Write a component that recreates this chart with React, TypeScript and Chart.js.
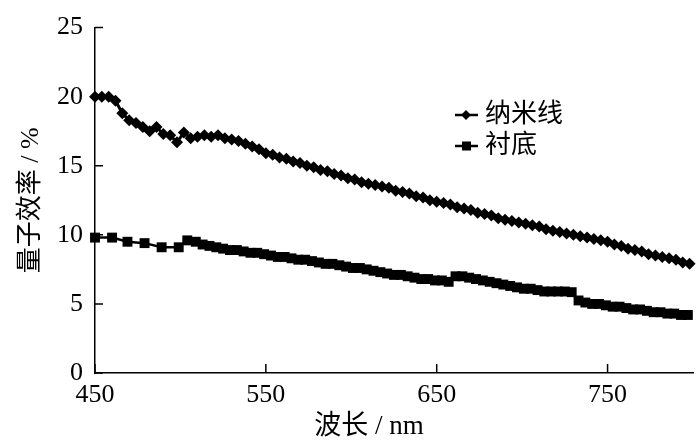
import React, { useEffect, useRef } from "react";
import { Chart, registerables } from "chart.js";

Chart.register(...registerables);

const seriesNames = ["纳米线", "衬底"];

const nwX = [
  450, 454, 458, 462, 466, 470, 474, 478, 482, 486, 490, 494, 498, 502, 506, 510,
  514, 518, 522, 526, 530, 534, 538, 542, 546, 550, 554, 558, 562, 566, 570, 574,
  578, 582, 586, 590, 594, 598, 602, 606, 610, 614, 618, 622, 626, 630, 634, 638,
  642, 646, 650, 654, 658, 662, 666, 670, 674, 678, 682, 686, 690, 694, 698, 702,
  706, 710, 714, 718, 722, 726, 730, 734, 738, 742, 746, 750, 754, 758, 762, 766,
  770, 774, 778, 782, 786, 790, 794, 798,
];
const nwY = [
  20.0, 20.0, 20.0, 19.7, 18.8, 18.3, 18.1, 17.8, 17.5, 17.8, 17.3, 17.2, 16.7, 17.4, 17.0, 17.1,
  17.2, 17.1, 17.2, 17.0, 16.9, 16.8, 16.6, 16.4, 16.2, 15.9, 15.8, 15.6, 15.5, 15.3, 15.2, 15.0,
  14.9, 14.7, 14.6, 14.4, 14.3, 14.1, 14.0, 13.8, 13.7, 13.6, 13.5, 13.4, 13.2, 13.1, 13.0, 12.8,
  12.7, 12.5, 12.4, 12.3, 12.2, 12.0, 11.9, 11.8, 11.6, 11.5, 11.4, 11.2, 11.1, 11.0, 10.9, 10.8,
  10.7, 10.6, 10.4, 10.3, 10.2, 10.1, 10.0, 9.9, 9.8, 9.7, 9.6, 9.5, 9.3, 9.2, 9.0, 8.9,
  8.8, 8.6, 8.5, 8.4, 8.3, 8.2, 8.0, 7.9,
];

const subX = [
  450, 460, 469, 479, 489, 499, 504, 509, 513, 517, 521, 525, 529, 533, 537, 541,
  545, 549, 553, 557, 561, 565, 569, 573, 577, 581, 585, 589, 593, 597, 601, 605,
  609, 613, 617, 621, 625, 629, 633, 637, 641, 645, 649, 653, 657, 661, 665, 669,
  673, 677, 681, 685, 689, 693, 697, 701, 705, 709, 713, 717, 721, 725, 729, 733,
  737, 741, 745, 749, 753, 757, 761, 765, 769, 773, 777, 781, 785, 789, 793, 797,
];
const subY = [
  9.8, 9.8, 9.5, 9.4, 9.1, 9.1, 9.6, 9.5, 9.3, 9.2, 9.1, 9.0, 8.9, 8.9, 8.8, 8.7,
  8.7, 8.6, 8.5, 8.4, 8.4, 8.3, 8.2, 8.2, 8.1, 8.0, 7.9, 7.9, 7.8, 7.7, 7.6, 7.6,
  7.5, 7.4, 7.3, 7.2, 7.1, 7.1, 7.0, 6.9, 6.8, 6.8, 6.7, 6.7, 6.6, 7.0, 7.0, 6.9,
  6.8, 6.7, 6.6, 6.5, 6.4, 6.3, 6.2, 6.1, 6.1, 6.0, 5.9, 5.9, 5.9, 5.9, 5.85, 5.25,
  5.1, 5.0, 5.0, 4.9, 4.8, 4.8, 4.7, 4.6, 4.6, 4.5, 4.4, 4.4, 4.3, 4.3, 4.2, 4.2,
];

const xTicks = [450, 550, 650, 750];
const yTicks = [0, 5, 10, 15, 20, 25];

const xTitle = "波长 / nm";
const yTitle = "量子效率 / %";

const FONT = "'Liberation Serif', 'Noto Sans CJK SC', serif";

const inwardTicks = {
  id: "inwardTicks",
  afterDraw(chart: any) {
    const ctx = chart.ctx;
    const { left, bottom } = chart.chartArea;
    const xs = chart.scales.x;
    const ys = chart.scales.y;
    ctx.save();
    ctx.strokeStyle = "#000";
    ctx.lineWidth = 1.5;
    ctx.beginPath();
    xs.ticks.forEach((t: any) => {
      const px = xs.getPixelForValue(t.value);
      ctx.moveTo(px, bottom);
      ctx.lineTo(px, bottom - 9);
    });
    ys.ticks.forEach((t: any) => {
      const py = ys.getPixelForValue(t.value);
      ctx.moveTo(left, py);
      ctx.lineTo(left + 8, py);
    });
    ctx.stroke();
    ctx.restore();
  },
};

const xTitlePlugin = {
  id: "xTitlePlugin",
  afterDraw(chart: any) {
    const ctx = chart.ctx;
    ctx.save();
    ctx.fillStyle = "#000";
    ctx.font = `27px ${FONT}`;
    ctx.textAlign = "center";
    ctx.textBaseline = "middle";
    ctx.fillText(xTitle, 369, 427);
    ctx.restore();
  },
};

const legendPlugin = {
  id: "customLegend",
  afterDraw(chart: any) {
    const ctx = chart.ctx;
    const rows = [115, 146];
    ctx.save();
    chart.data.datasets.forEach((ds: any, i: number) => {
      const y = rows[i];
      ctx.strokeStyle = "#000";
      ctx.lineWidth = 2.5;
      ctx.beginPath();
      ctx.moveTo(455, y);
      ctx.lineTo(478, y);
      ctx.stroke();
      ctx.fillStyle = "#000";
      ctx.beginPath();
      if (ds.pointStyle === "rectRot") {
        ctx.moveTo(466, y - 5);
        ctx.lineTo(471, y);
        ctx.lineTo(466, y + 5);
        ctx.lineTo(461, y);
        ctx.closePath();
      } else {
        ctx.rect(462, y - 4.5, 9, 9);
      }
      ctx.fill();
      ctx.font = `26px ${FONT}`;
      ctx.textAlign = "left";
      ctx.textBaseline = "middle";
      ctx.fillText(ds.label, 485, y);
    });
    ctx.restore();
  },
};

export default function App() {
  const ref = useRef<HTMLCanvasElement | null>(null);

  useEffect(() => {
    if (!ref.current) return;
    const chart = new Chart(ref.current, {
      type: "line",
      data: {
        datasets: [
          {
            label: seriesNames[0],
            data: nwX.map((x, i) => ({ x, y: nwY[i] })),
            borderColor: "#000",
            backgroundColor: "#000",
            borderWidth: 3,
            pointStyle: "rectRot",
            pointRadius: 6,
            pointBorderWidth: 0,
            pointBackgroundColor: "#000",
            clip: false as any,
          },
          {
            label: seriesNames[1],
            data: subX.map((x, i) => ({ x, y: subY[i] })),
            borderColor: "#000",
            backgroundColor: "#000",
            borderWidth: 2.5,
            pointStyle: "rect",
            pointRadius: 7,
            pointBorderWidth: 0,
            pointBackgroundColor: "#000",
            clip: false as any,
          },
        ],
      },
      options: {
        responsive: false,
        animation: false,
        devicePixelRatio: 1,
        layout: { padding: { top: 16, right: 3, left: 0, bottom: 0 } },
        plugins: {
          legend: { display: false },
          tooltip: { enabled: false },
        },
        scales: {
          x: {
            type: "linear",
            min: 450,
            max: 800,
            position: "bottom",
            afterBuildTicks: (s: any) => {
              s.ticks = xTicks.map((v) => ({ value: v }));
            },
            afterFit: (s: any) => {
              s.height = 72;
            },
            ticks: {
              color: "#000",
              font: { family: FONT, size: 26 },
              padding: 7,
              maxRotation: 0,
              autoSkip: false,
            },
            grid: { drawOnChartArea: false, drawTicks: false },
            border: { display: true, color: "#000", width: 1.5 },
          },
          y: {
            type: "linear",
            min: 0,
            max: 25,
            afterBuildTicks: (s: any) => {
              s.ticks = yTicks.map((v) => ({ value: v }));
            },
            afterFit: (s: any) => {
              s.width = 95;
            },
            ticks: {
              color: "#000",
              font: { family: FONT, size: 26 },
              padding: 12,
            },
            grid: { drawOnChartArea: false, drawTicks: false },
            border: { display: true, color: "#000", width: 1.5 },
            title: {
              display: true,
              text: yTitle,
              color: "#000",
              font: { family: FONT, size: 26, lineHeight: 1.2 },
              padding: { top: 16, bottom: 0 },
            },
          },
        },
      },
      plugins: [inwardTicks, xTitlePlugin, legendPlugin],
    });
    return () => chart.destroy();
  }, []);

  return (
    <div style={{ position: "fixed", left: 0, top: 0, width: 700, height: 445, background: "#fff" }}>
      <canvas ref={ref} width={700} height={445} style={{ width: 700, height: 445, display: "block" }} />
    </div>
  );
}
